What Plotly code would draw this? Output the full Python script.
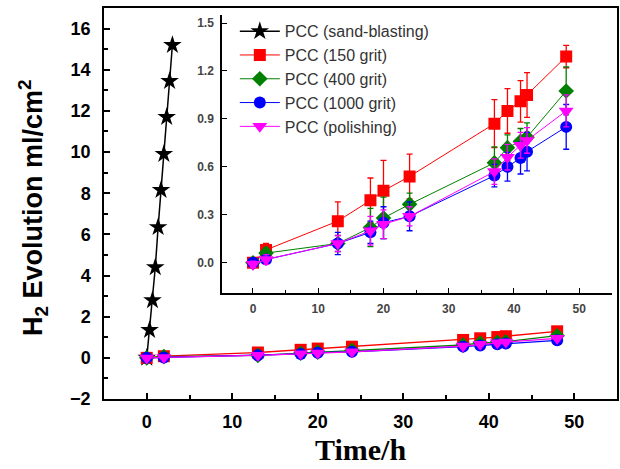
import plotly.graph_objects as go

# ---------------- data ----------------
t_sand = [0, 0.33, 0.67, 1.0, 1.33, 1.67, 2.0, 2.33, 2.67, 3.0]
v_sand = [0, 1.35, 2.8, 4.4, 6.35, 8.15, 9.9, 11.7, 13.45, 15.2]

t = [0, 2, 13, 18, 20, 24, 37, 39, 41, 42, 48]
v_150 = [0.0, 0.08, 0.26, 0.39, 0.45, 0.54, 0.87, 0.95, 1.01, 1.05, 1.29]
e_150 = [0.02, 0.04, 0.12, 0.14, 0.19, 0.14, 0.15, 0.14, 0.13, 0.14, 0.07]
v_400 = [0.0, 0.06, 0.12, 0.22, 0.28, 0.365, 0.625, 0.72, 0.76, 0.785, 1.075]
e_400 = [0.02, 0.03, 0.05, 0.12, 0.13, 0.07, 0.10, 0.08, 0.08, 0.09, 0.15]
v_1000 = [0.0, 0.02, 0.12, 0.19, 0.25, 0.29, 0.545, 0.60, 0.655, 0.695, 0.85]
e_1000 = [0.02, 0.03, 0.07, 0.07, 0.10, 0.09, 0.07, 0.09, 0.10, 0.12, 0.14]
v_pol = [-0.01, 0.02, 0.12, 0.20, 0.24, 0.29, 0.57, 0.66, 0.735, 0.765, 0.95]
e_pol = [0.02, 0.03, 0.05, 0.09, 0.09, 0.06, 0.08, 0.08, 0.08, 0.08, 0.10]

names = ["PCC (sand-blasting)", "PCC (150 grit)", "PCC (400 grit)",
         "PCC (1000 grit)", "PCC (polishing)"]

series = [
    (names[1], v_150, e_150, "#ff0000", "square"),
    (names[2], v_400, e_400, "#008000", "diamond"),
    (names[3], v_1000, e_1000, "#0000ff", "circle"),
    (names[4], v_pol, e_pol, "#ff00ff", "triangle-down"),
]

fig = go.Figure()

# sand-blasting (main axes, in legend)
fig.add_trace(go.Scatter(
    x=t_sand, y=v_sand, name=names[0], mode="lines+markers",
    line=dict(color="black", width=1.5),
    marker=dict(symbol="star", size=14, color="black"),
    xaxis="x", yaxis="y", showlegend=True))

# inset traces (in legend)
for nm, v, e, c, sym in series:
    fig.add_trace(go.Scatter(
        x=t, y=v, name=nm, mode="lines+markers",
        line=dict(color=c, width=1),
        marker=dict(symbol=sym, size=12 if sym != "triangle-down" else 13, color=c),
        error_y=dict(type="data", array=e, color=c, thickness=1.3, width=3),
        xaxis="x2", yaxis="y2", showlegend=True))

# main-axes traces
for nm, v, e, c, sym in series:
    fig.add_trace(go.Scatter(
        x=t, y=v, name=nm, mode="lines+markers",
        line=dict(color=c, width=1.3),
        marker=dict(symbol=sym, size=12 if sym != "triangle-down" else 13, color=c),
        error_y=dict(type="data", array=e, color=c, thickness=1, width=3),
        xaxis="x", yaxis="y", showlegend=False))

main_tick = dict(family="Liberation Sans, Arial, sans-serif", size=18, color="black", weight="bold")
inset_tick = dict(family="Liberation Sans, Arial, sans-serif", size=12, color="#444444", weight="bold")

fig.update_layout(
    width=620, height=469,
    margin=dict(l=104, r=3, t=8, b=70),
    paper_bgcolor="white", plot_bgcolor="white",
    showlegend=True,
    legend=dict(x=0.255, y=0.984, xanchor="left", yanchor="top",
                bgcolor="rgba(0,0,0,0)",
                font=dict(family="Liberation Sans, Arial, sans-serif", size=16, color="#333333"),
                tracegroupgap=0, itemwidth=40),
    xaxis=dict(domain=[0, 1], range=[-5, 55], dtick=10, tick0=0, automargin=False,
               showline=True, linecolor="black", linewidth=1.5, mirror=True,
               ticks="inside", ticklen=6, tickwidth=1.5, tickcolor="black",
               minor=dict(dtick=5, ticks="inside", ticklen=4, tickwidth=1.5, tickcolor="black"),
               showgrid=False, zeroline=False, tickfont=main_tick,
               ticklabelstandoff=6, anchor="y"),
    yaxis=dict(domain=[0, 1], range=[-2, 17], dtick=2, tick0=0, automargin=False,
               showline=True, linecolor="black", linewidth=1.5, mirror=True,
               ticks="inside", ticklen=6, tickwidth=1.5, tickcolor="black",
               minor=dict(dtick=1, ticks="inside", ticklen=4, tickwidth=1.5, tickcolor="black"),
               showgrid=False, zeroline=False, tickfont=main_tick,
               ticklabelstandoff=8, anchor="x"),
    xaxis2=dict(domain=[0.230, 0.990], range=[-4.75, 55], dtick=10, tick0=0, automargin=False,
                showline=True, linecolor="black", linewidth=1.5, mirror=False,
                ticks="inside", ticklen=5, tickwidth=1.3, tickcolor="black",
                minor=dict(dtick=5, ticks="inside", ticklen=3, tickwidth=1.3, tickcolor="black"),
                showgrid=False, zeroline=False, tickfont=inset_tick,
                ticklabelstandoff=4, anchor="y2"),
    yaxis2=dict(domain=[0.271, 0.982], range=[-0.19, 1.55], dtick=0.3, tick0=0,
                tickformat=".1f", automargin=False,
                showline=True, linecolor="black", linewidth=1.5, mirror=False,
                ticks="inside", ticklen=5, tickwidth=1.3, tickcolor="black",
                showgrid=False, zeroline=False, tickfont=inset_tick,
                ticklabelstandoff=4, anchor="x2"),
    annotations=[
        dict(text="<b>Time/h</b>", xref="paper", yref="paper",
             x=(360 - 104) / 513, y=-(467 - 399) / 391, xanchor="center", yanchor="bottom",
             showarrow=False, borderpad=0,
             font=dict(family="Liberation Serif, Times New Roman, serif", size=30, color="black")),
        dict(text="<b>H<sub>2</sub> Evolution ml/cm<sup>2</sup></b>", xref="paper", yref="paper",
             x=-(104 - 33) / 513, y=(399 - 208) / 391, xanchor="center", yanchor="middle",
             textangle=-90, showarrow=False,
             font=dict(family="Liberation Sans, Arial, sans-serif", size=27, color="black")),
    ],
)

fig.write_html("out.html", config={"displayModeBar": False},
               post_script="document.body.style.margin='0';document.body.style.padding='0';")
